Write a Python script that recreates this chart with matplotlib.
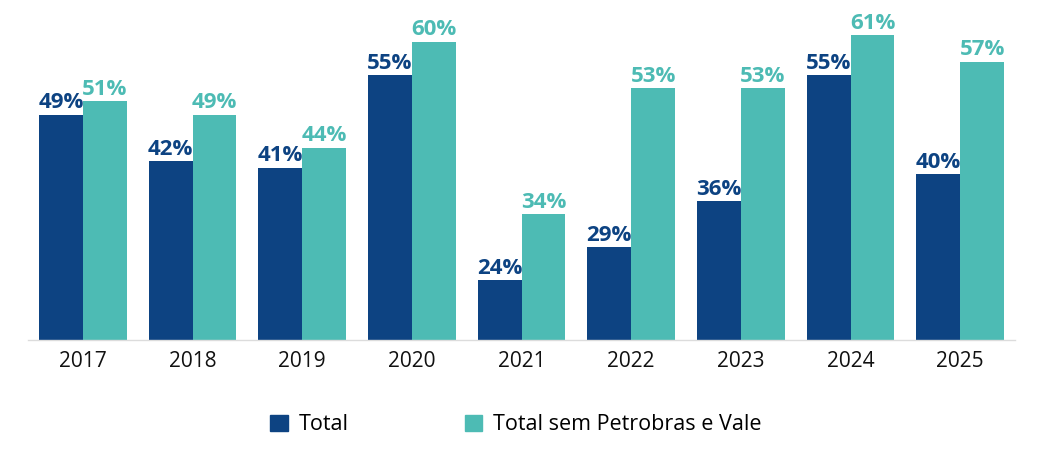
import numpy as np
import matplotlib.pyplot as plt
from matplotlib.patches import Patch

# data
years = ['2017', '2018', '2019', '2020', '2021', '2022', '2023', '2024', '2025']
total = [49, 42, 41, 55, 24, 29, 36, 55, 40]
total_sem = [51, 49, 44, 60, 34, 53, 53, 61, 57]

dark = '#0D4382'
teal = '#4DBBB4'

plt.rcParams['font.family'] = ['Open Sans', 'DejaVu Sans']

fig = plt.figure(figsize=(10.4, 4.5), dpi=100)
ax = fig.add_axes([0.027, 0.2444, 0.949, 0.7556])

x = np.arange(len(years))
w = 0.4
b1 = ax.bar(x - w / 2, total, w, color=dark)
b2 = ax.bar(x + w / 2, total_sem, w, color=teal)

for bars, vals, c in [(b1, total, dark), (b2, total_sem, teal)]:
    for r, v in zip(bars, vals):
        ax.text(r.get_x() + r.get_width() / 2, v + 0.2, f'{v}%',
                ha='center', va='bottom', color=c, fontsize=16,
                fontweight='bold')

ax.set_ylim(15, 66.3)
ax.set_xlim(-0.5, 8.5)
ax.set_yticks([])
ax.set_xticks(x)
ax.set_xticklabels(years, fontsize=15, color='#111111')
ax.tick_params(axis='x', length=0, pad=8)
for s in ['top', 'right', 'left']:
    ax.spines[s].set_visible(False)
ax.spines['bottom'].set_color('#dcdcdc')
ax.spines['bottom'].set_linewidth(1.0)

handles = [Patch(color=dark, label='Total'),
           Patch(color=teal, label='Total sem Petrobras e Vale')]
fig.legend(handles=handles, loc='center', bbox_to_anchor=(0.496, 0.056),
           ncol=2, frameon=False, fontsize=15.5, handlelength=0.8,
           handleheight=0.75, handletextpad=0.5, columnspacing=5.4,
           borderpad=0)

fig.savefig('out.png', dpi=100)
